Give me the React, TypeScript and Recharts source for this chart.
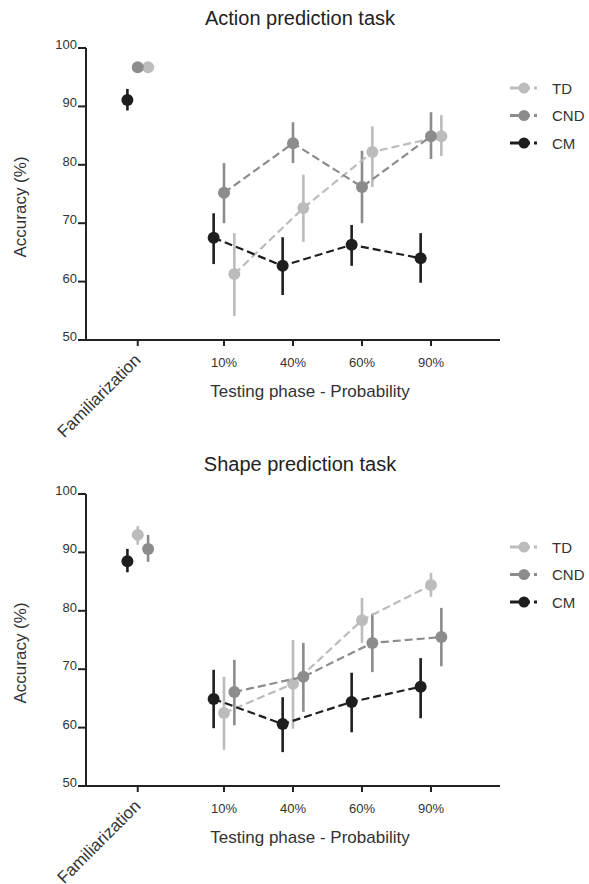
import { ComposedChart, Scatter, ErrorBar, XAxis, YAxis } from "recharts"

// phases on the x axis and where they sit on the numeric scale
const phases = ["Familiarization", "10%", "40%", "60%", "90%"]
const phaseTicks = [0, 1.25, 2.25, 3.25, 4.25]
const yTicks = [50, 60, 70, 80, 90, 100]

// Action prediction task (mean, lower, upper)
const actionTD = [96.7, 61.3, 72.6, 82.2, 84.9]
const actionTDLow = [96.7, 54.1, 66.8, 76.2, 81.5]
const actionTDHigh = [96.7, 68.3, 78.3, 86.6, 88.5]
const actionCND = [96.7, 75.2, 83.7, 76.2, 84.9]
const actionCNDLow = [96.7, 70.0, 80.3, 70.0, 81.0]
const actionCNDHigh = [96.7, 80.3, 87.3, 82.4, 89.0]
const actionCM = [91.1, 67.5, 62.7, 66.3, 64.0]
const actionCMLow = [89.3, 63.0, 57.7, 62.7, 59.8]
const actionCMHigh = [93.0, 71.7, 67.6, 69.7, 68.3]

// Shape prediction task
const shapeTD = [93.0, 62.5, 67.5, 78.4, 84.4]
const shapeTDLow = [91.3, 56.2, 59.8, 74.5, 82.4]
const shapeTDHigh = [94.5, 68.7, 75.0, 82.2, 86.5]
const shapeCND = [90.6, 66.1, 68.7, 74.5, 75.5]
const shapeCNDLow = [88.4, 60.4, 62.7, 69.5, 70.5]
const shapeCNDHigh = [93.0, 71.6, 74.5, 79.5, 80.5]
const shapeCM = [88.5, 64.9, 60.6, 64.4, 67.0]
const shapeCMLow = [86.6, 59.9, 55.8, 59.2, 61.6]
const shapeCMHigh = [90.6, 69.9, 65.2, 69.4, 71.9]

const COLORS: Record<string, string> = { TD: "#bcbcbc", CND: "#8c8c8c", CM: "#1e1e1e" }
const AXIS = "#222"
const FONT = "'Liberation Sans', Arial, sans-serif"

type Series = { name: string; vals: number[]; lows: number[]; highs: number[]; offset: number }

const toPoints = (s: Series) =>
  s.vals.map((v, i) => ({ x: phaseTicks[i] + s.offset, y: v, err: [v - s.lows[i], s.highs[i] - v] }))

const XTick = (props: any) => {
  const { x, y, payload } = props
  const idx = phaseTicks.indexOf(payload.value)
  if (idx === 0) {
    return (
      <text transform={`translate(${x + 4},${y + 13}) rotate(-45)`} textAnchor="end" fontSize={17} fill="#333" fontFamily={FONT}>
        {phases[0]}
      </text>
    )
  }
  return (
    <text x={x} y={y + 19} textAnchor="middle" fontSize={13} fill="#333" fontFamily={FONT}>
      {phases[idx]}
    </text>
  )
}

const YTick = (props: any) => {
  const { x, y, payload } = props
  return (
    <text x={x} y={y + 1} textAnchor="end" fontSize={13} fill="#333" fontFamily={FONT}>
      {payload.value}
    </text>
  )
}

const dot = (color: string) => (p: any) => <circle cx={p.cx} cy={p.cy} r={6} fill={color} />

function Panel({ title, series, height, legendTop }: { title: string; series: Series[]; height: number; legendTop: number }) {
  return (
    <div style={{ position: "relative", width: 589, height }}>
      <ComposedChart width={589} height={height} margin={{ top: 48, right: 89, bottom: height - 400, left: 0 }}>
        <XAxis
          type="number"
          dataKey="x"
          domain={[-0.75, 5.25]}
          ticks={phaseTicks}
          interval={0}
          allowDataOverflow
          height={60}
          tickSize={6}
          axisLine={{ stroke: AXIS, strokeWidth: 2 }}
          tickLine={{ stroke: AXIS, strokeWidth: 2 }}
          tick={<XTick />}
        />
        <YAxis
          type="number"
          dataKey="y"
          domain={[50, 100]}
          ticks={yTicks}
          interval={0}
          allowDataOverflow
          width={86}
          tickSize={8}
          tickMargin={1}
          axisLine={{ stroke: AXIS, strokeWidth: 2 }}
          tickLine={{ stroke: AXIS, strokeWidth: 2 }}
          tick={<YTick />}
        />
        {series.map((s) => {
          const pts = toPoints(s)
          const color = COLORS[s.name]
          return [
            <Scatter key={s.name + "-fam"} data={pts.slice(0, 1)} shape={dot(color)} isAnimationActive={false}>
              <ErrorBar dataKey="err" direction="y" width={0} stroke={color} strokeWidth={2.6} />
            </Scatter>,
            <Scatter
              key={s.name + "-test"}
              data={pts.slice(1)}
              shape={dot(color)}
              line={{ stroke: color, strokeWidth: 2.2, strokeDasharray: "8 4" }}
              lineType="joint"
              isAnimationActive={false}
            >
              <ErrorBar dataKey="err" direction="y" width={0} stroke={color} strokeWidth={2.6} />
            </Scatter>,
          ]
        })}
      </ComposedChart>
      <svg width={589} height={height} style={{ position: "absolute", left: 0, top: 0, pointerEvents: "none" }} fontFamily={FONT}>
        <text x={300} y={25} textAnchor="middle" fontSize={20} fill="#222">{title}</text>
        <text x={310} y={397} textAnchor="middle" fontSize={17} fill="#333">Testing phase - Probability</text>
        <text transform="translate(26,207) rotate(-90)" textAnchor="middle" fontSize={17} fill="#333">Accuracy (%)</text>
        {["TD", "CND", "CM"].map((n, i) => {
          const cy = legendTop + i * 27.5
          const c = COLORS[n]
          return (
            <g key={n}>
              <line x1={510} x2={530} y1={cy} y2={cy} stroke={c} strokeWidth={3} />
              <line x1={534} x2={537} y1={cy} y2={cy} stroke={c} strokeWidth={3} />
              <circle cx={524} cy={cy} r={5.5} fill={c} />
              <text x={552} y={cy + 5.5} fontSize={15} fill="#333">{n}</text>
            </g>
          )
        })}
      </svg>
    </div>
  )
}

const actionSeries: Series[] = [
  { name: "TD", vals: actionTD, lows: actionTDLow, highs: actionTDHigh, offset: 0.15 },
  { name: "CND", vals: actionCND, lows: actionCNDLow, highs: actionCNDHigh, offset: 0 },
  { name: "CM", vals: actionCM, lows: actionCMLow, highs: actionCMHigh, offset: -0.15 },
]

const shapeSeries: Series[] = [
  { name: "TD", vals: shapeTD, lows: shapeTDLow, highs: shapeTDHigh, offset: 0 },
  { name: "CND", vals: shapeCND, lows: shapeCNDLow, highs: shapeCNDHigh, offset: 0.15 },
  { name: "CM", vals: shapeCM, lows: shapeCMLow, highs: shapeCMHigh, offset: -0.15 },
]

export default function App() {
  return (
    <div style={{ position: "absolute", left: 0, top: 0, width: 589, height: 884, background: "#fff", overflow: "hidden" }}>
      <Panel title="Action prediction task" series={actionSeries} height={446} legendTop={88} />
      <Panel title="Shape prediction task" series={shapeSeries} height={438} legendTop={101} />
    </div>
  )
}
